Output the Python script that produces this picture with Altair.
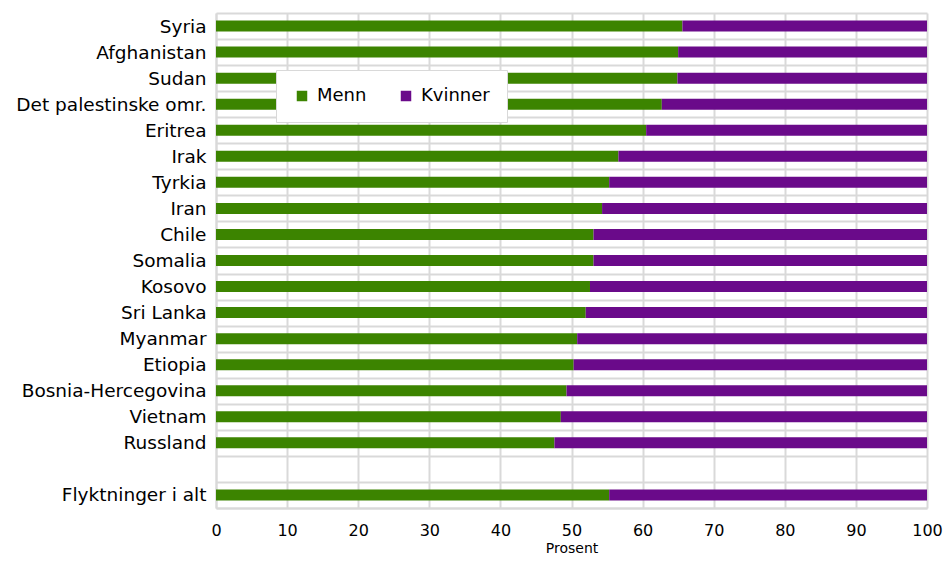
import altair as alt
import pandas as pd

countries = ["Syria", "Afghanistan", "Sudan", "Det palestinske omr.", "Eritrea", "Irak",
             "Tyrkia", "Iran", "Chile", "Somalia", "Kosovo", "Sri Lanka", "Myanmar",
             "Etiopia", "Bosnia-Hercegovina", "Vietnam", "Russland", "Flyktninger i alt"]
menn = [65.6, 65.0, 64.9, 62.7, 60.5, 56.6, 55.3, 54.3, 53.1, 53.1, 52.6, 52.0, 50.8,
        50.3, 49.3, 48.5, 47.6, 55.3]
kvinner = [round(100 - m, 1) for m in menn]
domain = countries[:-1] + [" "] + [countries[-1]]
series = ["Menn", "Kvinner"]
colors = ["#3c8400", "#6a0a8a"]
x_ticks = list(range(0, 101, 10))

rows = []
for c, m, k in zip(countries, menn, kvinner):
    rows.append({"land": c, "kjonn": "Menn", "verdi": m, "ord": 0})
    rows.append({"land": c, "kjonn": "Kvinner", "verdi": k, "ord": 1})
df = pd.DataFrame(rows)

font = "DejaVu Sans"
chart = alt.Chart(df).mark_bar(size=11).encode(
    x=alt.X("verdi:Q", stack="zero",
            scale=alt.Scale(domain=[0, 100], nice=False),
            axis=alt.Axis(values=x_ticks, title="Prosent",
                          labelFontSize=16, titleFontSize=14, labelColor="#000",
                          titleColor="#000", titleFontWeight="normal",
                          labelFont=font, titleFont=font, labelFlush=False,
                          ticks=False, labelPadding=14, titlePadding=3,
                          grid=True, gridColor="#d9d9d9", gridWidth=2,
                          domainColor="#d9d9d9", domainWidth=2)),
    y=alt.Y("land:N", scale=alt.Scale(domain=domain, paddingInner=0, paddingOuter=0),
            axis=alt.Axis(title=None, labelFontSize=18.5, labelColor="#000", labelFont=font,
                          ticks=False, labelPadding=10, grid=True, tickBand="extent",
                          gridColor="#d9d9d9", gridWidth=2,
                          domainColor="#d9d9d9", domainWidth=2, labelLimit=300)),
    color=alt.Color("kjonn:N", scale=alt.Scale(domain=series, range=colors),
                    legend=alt.Legend(title=None, orient="none", legendX=60, legendY=57,
                                      direction="horizontal", symbolType="square",
                                      symbolSize=110, symbolStrokeWidth=0,
                                      labelFontSize=18, labelFont=font, labelColor="#000",
                                      columnPadding=30, symbolOffset=0, labelOffset=6,
                                      fillColor="white", strokeColor="#d9d9d9",
                                      padding=17)),
    order=alt.Order("ord:Q"),
).properties(
    width=711, height=495,
    autosize=alt.AutoSizeParams(type="none"),
    padding={"left": 208, "top": 5, "right": 16, "bottom": 46},
).configure_view(stroke=None)

chart.save("out.html", embed_options={"renderer": "svg", "actions": False})
